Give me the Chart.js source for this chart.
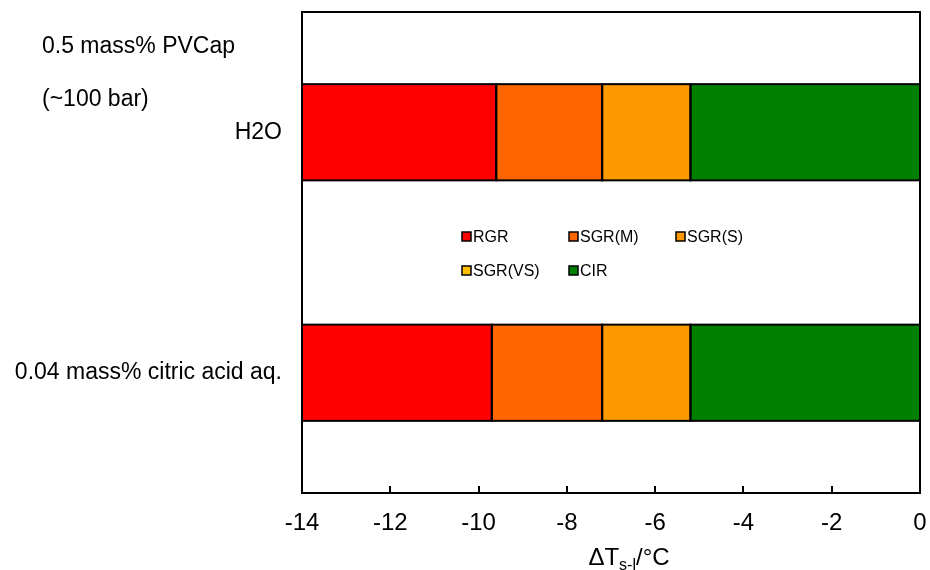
<!DOCTYPE html>
<html>
<head>
<meta charset="utf-8">
<script src="https://cdn.jsdelivr.net/npm/chart.js@4/dist/chart.umd.min.js"></script>
<style>
  html, body { margin: 0; padding: 0; background: #fff; }
  #wrap { width: 930px; height: 570px; position: relative; }
</style>
</head>
<body>
<div id="wrap"><canvas id="chart"></canvas></div>
<script>
// categories (top to bottom) and the growth-regime ranges on the ΔT axis
const categories = ['H2O', '0.04 mass% citric acid aq.'];
const rgr   = [[-14, -9.6], [-14, -9.7]];
const sgrM  = [[-9.6, -7.2], [-9.7, -7.2]];
const sgrS  = [[-7.2, -5.2], [-7.2, -5.2]];
const sgrVS = [null, null];
const cir   = [[-5.2, 0], [-5.2, 0]];

const xMin = -14;
const xMax = 0;
const xStep = 2;

const FONT = 'Arial, "Liberation Sans", sans-serif';

function series(label, data, color) {
    return {
        label: label,
        data: data,
        backgroundColor: color,
        borderWidth: 0,
        grouped: false,
        barPercentage: 0.4,
        categoryPercentage: 1.0
    };
}

// frame, bar outlines, inward ticks, notes, axis title and in-plot legend
const decorations = {
    id: 'decorations',
    afterDatasetsDraw(chart) {
        const ctx = chart.ctx;
        const a = chart.chartArea;
        const xs = chart.scales.x;
        ctx.save();

        ctx.strokeStyle = '#000';
        ctx.lineWidth = 2;

        // outlines centred on the bar edges so neighbours share one line
        chart.data.datasets.forEach((ds, i) => {
            chart.getDatasetMeta(i).data.forEach(bar => {
                if (bar.skip) return;
                const p = bar.getProps(['x', 'y', 'base', 'height']);
                if (isNaN(p.x) || isNaN(p.base)) return;
                const left = Math.min(p.x, p.base);
                const w = Math.abs(p.x - p.base);
                ctx.strokeRect(left, p.y - p.height / 2, w, p.height);
            });
        });

        ctx.strokeRect(a.left, a.top, a.right - a.left, a.bottom - a.top);

        // tick marks pointing into the plot
        ctx.beginPath();
        xs.ticks.forEach(t => {
            const px = Math.round(xs.getPixelForValue(t.value));
            ctx.moveTo(px, a.bottom);
            ctx.lineTo(px, a.bottom - 7);
        });
        ctx.stroke();

        ctx.fillStyle = '#000';
        ctx.textAlign = 'left';
        ctx.textBaseline = 'alphabetic';
        ctx.font = '23px ' + FONT;
        ctx.fillText('0.5 mass% PVCap', 42, 53);
        ctx.fillText('(~100 bar)', 42, 106);

        // ΔT with subscript s-l
        const big = '24px ' + FONT;
        const small = '16px ' + FONT;
        ctx.font = big;
        const w1 = ctx.measureText('ΔT').width;
        const w3 = ctx.measureText('/°C').width;
        ctx.font = small;
        const w2 = ctx.measureText('s-l').width;
        let tx = 629 - (w1 + w2 + w3) / 2;
        const ty = 565;
        ctx.font = big;
        ctx.fillText('ΔT', tx, ty);
        tx += w1;
        ctx.font = small;
        ctx.fillText('s-l', tx, ty + 5);
        tx += w2;
        ctx.font = big;
        ctx.fillText('/°C', tx, ty);

        // legend, three entries per row
        ctx.font = '16px ' + FONT;
        chart.data.datasets.forEach((ds, i) => {
            const col = i % 3;
            const row = Math.floor(i / 3);
            const bx = 462 + col * 107;
            const by = 232 + row * 34;
            ctx.fillStyle = ds.backgroundColor;
            ctx.fillRect(bx, by, 9, 9);
            ctx.lineWidth = 1.5;
            ctx.strokeStyle = '#000';
            ctx.strokeRect(bx, by, 9, 9);
            ctx.fillStyle = '#000';
            ctx.fillText(ds.label, bx + 11, by + 10);
        });

        ctx.restore();
    }
};

new Chart(document.getElementById('chart'), {
    type: 'bar',
    data: {
        labels: categories,
        datasets: [
            series('RGR', rgr, '#FF0000'),
            series('SGR(M)', sgrM, '#FF6600'),
            series('SGR(S)', sgrS, '#FF9900'),
            series('SGR(VS)', sgrVS, '#FFC000'),
            series('CIR', cir, '#008000')
        ]
    },
    options: {
        indexAxis: 'y',
        responsive: true,
        maintainAspectRatio: false,
        animation: false,
        layout: { padding: { left: 0, top: 12, right: 10, bottom: 0 } },
        plugins: {
            legend: { display: false },
            tooltip: { enabled: false }
        },
        scales: {
            x: {
                type: 'linear',
                min: xMin,
                max: xMax,
                grid: { display: false, drawTicks: false },
                border: { color: '#000', width: 2 },
                ticks: {
                    stepSize: xStep,
                    color: '#000',
                    padding: 16,
                    font: { family: FONT, size: 24 }
                },
                afterFit(scale) {
                    scale.height = 77;
                    scale.paddingLeft = 0;
                    scale.paddingRight = 0;
                }
            },
            y: {
                grid: { display: false, drawTicks: false },
                border: { color: '#000', width: 2 },
                ticks: {
                    color: '#000',
                    padding: 20,
                    font: { family: FONT, size: 23 }
                },
                afterFit(scale) {
                    scale.width = 302;
                    scale.paddingTop = 0;
                    scale.paddingBottom = 0;
                }
            }
        }
    },
    plugins: [decorations]
});
</script>
</body>
</html>
